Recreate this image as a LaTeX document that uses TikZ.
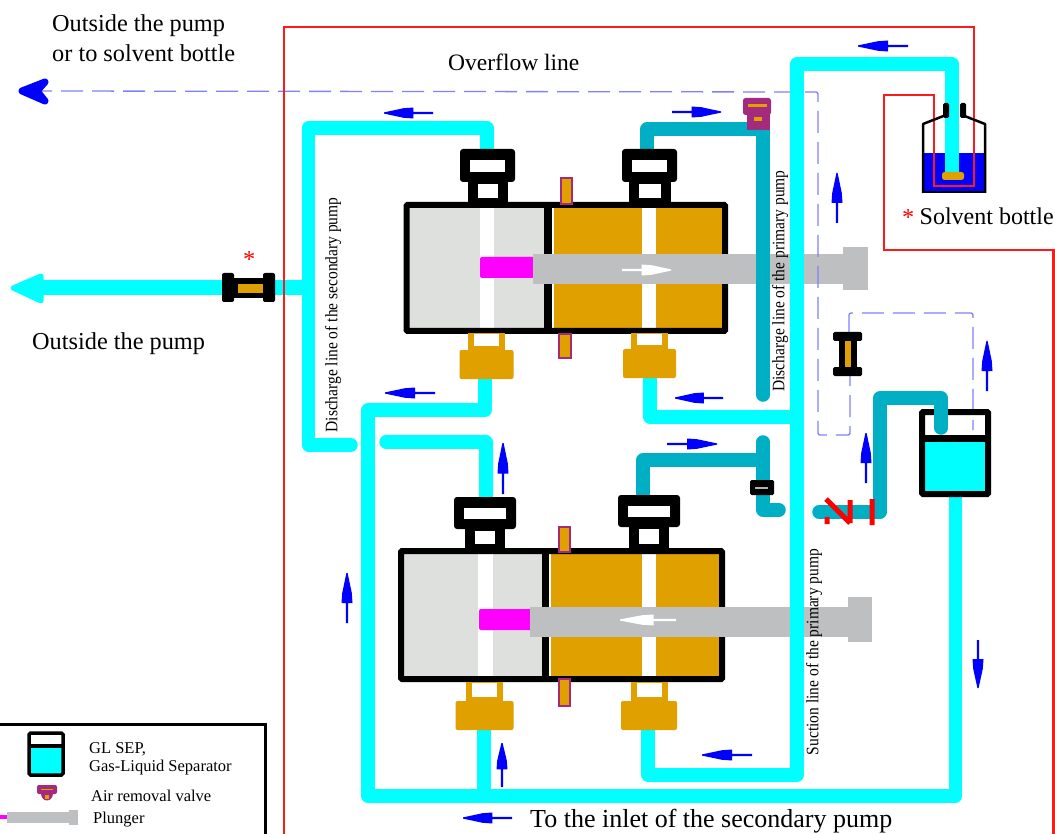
\documentclass[tikz,border=0pt]{standalone}
\usepackage{fontspec}
\setmainfont{Liberation Serif}
\definecolor{pipec}{HTML}{00FFFF}
\definecolor{pipet}{HTML}{00AFC3}
\definecolor{orng}{HTML}{DFA000}
\definecolor{lgrey}{HTML}{DDE0DD}
\definecolor{rod}{HTML}{BDBFC1}
\definecolor{purp}{HTML}{A32A7C}
\definecolor{dashb}{HTML}{8080FF}
\definecolor{redl}{HTML}{FF1A1A}
\definecolor{magn}{HTML}{FF00FF}
\definecolor{bluef}{HTML}{0000FF}
\tikzset{
 pipe/.style={line width=13.5pt,color=pipec,line join=round},
 tpipe/.style={line width=13.5pt,color=pipet,line join=round,line cap=round},
 redline/.style={line width=2.8pt,color=redl},
 dashline/.style={line width=1.3pt,color=dashb,dash pattern=on 22pt off 9pt,rounded corners=2pt},
 lbl/.style={inner sep=0pt,anchor=base west,font=\fontsize{24.3}{24}\selectfont},
 vlbl/.style={inner sep=0pt,rotate=90,font=\fontsize{17.5}{17}\selectfont,xscale=.885,transform shape},
 leg/.style={inner sep=0pt,anchor=base west,font=\fontsize{16.5}{16}\selectfont},
}
% flow arrow: tail x,y ; tip x,y ; colour
\newcommand{\flowarrow}[5]{%
 \begin{scope}[shift={(#1,#2)},rotate={atan2(-(#4-(#2)),#3-(#1))}]
  \pgfmathsetmacro{\len}{veclen(#3-(#1),#4-(#2))}
  \fill[#5] (0,-1.2)--(\len*.4,-1.2)--(\len*.4,-5.5)--(\len*.6,-4.8)--(\len,-.6)--(\len,.6)--(\len*.6,4.8)--(\len*.4,5.5)--(\len*.4,1.2)--(0,1.2)--cycle;
 \end{scope}}
\newcommand{\blackvalve}[6]{%
 \fill[black,rounded corners=3pt] (#1-#3,#2) rectangle (#1+#3,#2+#4);
 \fill[black] (#1-#5,#2+#4-2) rectangle (#1+#5,#6);
 \fill[white] (#1-#3+10,#2+11) rectangle (#1+#3-10,#2+#4-10);
 \fill[white] (#1-#5+10,#2+#4+2) rectangle (#1+#5-10,#6-8);}
\newcommand{\orangevalve}[6]{%
 \fill[orng] (#1-#3,#2) rectangle (#1+#3,#4+1);
 \fill[white] (#1-#3+6,#2+1) rectangle (#1+#3-6,#4-4);
 \fill[orng,rounded corners=2pt] (#1-#5,#4) rectangle (#1+#5,#6);}
\newcommand{\airvalve}[2]{%
 \fill[purp,rounded corners=2.5pt] (#1-15,#2) rectangle (#1+13,#2+17);
 \fill[purp] (#1-11,#2+14) rectangle (#1+12,#2+32);
 \fill[orng] (#1-10,#2+6) rectangle (#1+9,#2+9.5);
 \fill[orng] (#1-4,#2+19) rectangle (#1+4,#2+23);}
\newcommand{\sealbar}[4]{%
 \fill[orng,draw=purp,line width=2pt] (#1,#2) rectangle (#3,#4);}
\begin{document}
\begin{tikzpicture}[x=1pt,y=-1pt]
\useasboundingbox (0,0) rectangle (1055,834);
\fill[white] (0,0) rectangle (1055,834);
% bottle contents
\fill[bluef] (924,153) rectangle (985,192);
% pump 1
\fill[lgrey] (404,202) rectangle (546,333);
\fill[orng] (550,202) rectangle (726,333);
\fill[white] (480,205) rectangle (494,330);
\fill[white] (642,205) rectangle (656,330);
\fill[white] (551,205) rectangle (554,330);
\draw[line width=6pt,rounded corners=1pt] (406.5,205) rectangle (725,331);
\draw[line width=8pt] (547.5,205) -- (547.5,331);
% pump 2
\fill[lgrey] (400,550) rectangle (544,680);
\fill[orng] (548,550) rectangle (722,680);
\fill[white] (478,553) rectangle (493,678);
\fill[white] (642,553) rectangle (656,678);
\fill[white] (548,553) rectangle (551,678);
\draw[line width=6pt,rounded corners=1pt] (401,551) rectangle (722,679);
\draw[line width=7pt] (545,551) -- (545,679);
% plungers
\fill[rod] (533,254) rectangle (845,284);
\fill[rod] (843,247) rectangle (868,290);
\fill[magn,rounded corners=2pt] (480,257) rectangle (536,278);
\fill[rod] (533,254) rectangle (560,284);
\fill[rod] (530,607) rectangle (850,637);
\fill[rod] (848,597) rectangle (872,642);
\fill[magn,rounded corners=2pt] (479,609) rectangle (532,630);
\fill[rod] (530,607) rectangle (560,637);
\flowarrow{622}{270}{671}{270}{white}
\flowarrow{676}{620}{620}{620}{white}
% dashed lines
\draw[dashline] (30,91) -- (818,92) -- (818,435) -- (850,435) -- (850,376);
\draw[dashline] (849,332) -- (849,313) -- (973,313) -- (973,430);
\draw[bluef,line width=7pt,line cap=round,line join=round,fill=bluef] (45,82) -- (22,91) -- (45,101) -- (37,91) -- cycle;
% pipes
\draw[pipe,line cap=round] (351,445) -- (308.5,445) -- (308.5,128) -- (487,128) -- (487,150);
\draw[pipe] (952,172) -- (952,64) -- (797,64) -- (797,775) -- (648,775) -- (648,730);
\draw[pipe] (650,378) -- (650,417) -- (797,417);
\draw[pipe] (485,378) -- (485,410) -- (368,410) -- (368,796) -- (955.5,796) -- (955.5,495);
\draw[pipe] (484,730) -- (484,796);
\draw[pipe,line cap=round] (386,442) -- (486,442) -- (486,500);
\draw[pipec,line width=15pt] (306,288) -- (35,288);
\fill[pipec,draw=pipec,line width=5pt,line join=round] (13,288) -- (41,276) -- (41,301) -- cycle;
% teal pipes
\draw[tpipe] (647,150) -- (647,129) -- (763,129) -- (763,395);
\draw[tpipe] (643,497) -- (643,460) -- (763,460);
\draw[tpipe] (763,442) -- (763,510) -- (779,510);
\draw[tpipe] (819,512) -- (880,512) -- (880,398) -- (941,398) -- (941,420);
% valves
\blackvalve{487.5}{149}{27.5}{33}{20}{206}
\blackvalve{649.5}{149}{27.5}{33}{21}{206}
\blackvalve{485}{497}{31}{32}{20}{552}
\blackvalve{649}{495}{31}{32}{20}{552}
\orangevalve{486.5}{333}{18.5}{350}{27}{379}
\orangevalve{649.5}{333}{18.5}{349}{26.5}{378}
\orangevalve{484.5}{682}{18.5}{701}{29}{730}
\orangevalve{649}{682}{18.5}{701}{28}{730}
\sealbar{561}{178}{572}{204}
\sealbar{559}{334}{571}{358}
\sealbar{559}{527}{570}{552}
\sealbar{559}{679}{570}{706}
\airvalve{758}{98}
% small black valve on teal
\fill[black,rounded corners=1.5pt] (750,480) rectangle (774,495);
\fill[gray!60] (755,486.5) rectangle (768,489);
% filter between dashes
\fill[black,rounded corners=1.5pt] (833,332) rectangle (862,341);
\fill[black,rounded corners=1.5pt] (833,367) rectangle (862,376);
\fill[black] (839,340) rectangle (857,368);
\fill[orng] (845,341) rectangle (851,367);
% left filter
\fill[black,rounded corners=2pt] (222,273) rectangle (234,302);
\fill[black,rounded corners=2pt] (263,273) rectangle (275,302);
\fill[black] (232,278) rectangle (265,298);
\fill[orng] (238,284) rectangle (263,293);
% red lines
\draw[redline] (284,834) -- (284,27) -- (974,27) -- (974,186) -- (934,186) -- (934,95) -- (884,95) -- (884,250) -- (1053.5,250) -- (1053.5,834);
% red marks
\draw[line width=5pt,color=red] (826,499) -- (850,523) (850,500) -- (850,523) (872,499) -- (872,525) (827,517) -- (827,524);
% bottle outline
\draw[line width=2.5pt,line join=round] (923,193) -- (923,124) -- (946,115) (985,193) -- (985,124) -- (962,115);
\draw[line width=2.5pt] (922,192) -- (986,192);
\fill[black,rounded corners=1.5pt] (943,103) rectangle (949,118);
\fill[black,rounded corners=1.5pt] (960,103) rectangle (966,118);
\fill[orng,rounded corners=2.5pt] (942,172) rectangle (964,180);
% separator
\fill[pipec] (925,442) rectangle (985,491);
\draw[line width=6pt,rounded corners=1pt] (922,412) rectangle (988,494);
\draw[line width=7pt] (922,438.5) -- (988,438.5);
\draw[tpipe] (941,400) -- (941,428);
% flow arrows
\flowarrow{908}{46}{858}{46}{bluef}
\flowarrow{433}{113}{384}{113}{bluef}
\flowarrow{672}{112}{721}{112}{bluef}
\flowarrow{837}{223}{837}{173}{bluef}
\flowarrow{723}{398}{675}{398}{bluef}
\flowarrow{435}{393}{385}{393}{bluef}
\flowarrow{667}{444}{717}{444}{bluef}
\flowarrow{503}{494}{503}{443}{bluef}
\flowarrow{347}{623}{347}{573}{bluef}
\flowarrow{502}{787}{502}{743}{bluef}
\flowarrow{512}{818}{463}{818}{bluef}
\flowarrow{752}{755}{702}{755}{bluef}
\flowarrow{978}{640}{978}{688}{bluef}
\flowarrow{866}{483}{866}{433}{bluef}
\flowarrow{987}{391}{987}{341}{bluef}
% labels
\node[lbl] (t1) at (52,32) {Outside the pump};
\node[lbl] (t2) at (52,62) {or to solvent bottle};
\node[lbl,font=\fontsize{23.5}{24}\selectfont] (t3) at (448,71) {Overflow line};
\node[lbl] (t4) at (32,349) {Outside the pump};
\node[lbl,font=\fontsize{26}{26}\selectfont] (t5) at (530,827) {To the inlet of the secondary pump};
\node[lbl,font=\fontsize{24}{24}\selectfont] (t6) at (919.5,225) {Solvent bottle};
\node[lbl,text=red] (s1) at (902,226) {*};
\node[lbl,text=red] (s2) at (243,268) {*};
\node[vlbl] (v1) at (333,315) {Discharge line of the secondary pump};
\node[vlbl] (v2) at (780,281) {Discharge line of the primary pump};
\node[vlbl] (v3) at (814,652) {Suction line of the primary pump};
% legend
\draw[line width=3pt,fill=white] (-3,724.5) -- (265,724.5) -- (265,837);
\fill[pipec] (30,748) rectangle (63,774);
\draw[line width=3.5pt,rounded corners=1.5pt] (29,733) rectangle (63,775);
\draw[line width=3.5pt] (29,746) -- (63,746);
\fill[purp,rounded corners=2pt] (37,785) rectangle (57,794);
\fill[purp] (41,793) .. controls (41,803) and (53,803) .. (53,793) -- cycle;
\fill[orng] (41,788.5) rectangle (53,790);
\fill[orng] (45,795) rectangle (49,798.5);
\fill[magn] (0,815) rectangle (7,819);
\fill[rod] (7,812) rectangle (70,823);
\fill[rod] (69,810) rectangle (78,825);
\node[leg] (l1) at (89,753) {GL SEP,};
\node[leg] (l2) at (89,771) {Gas-Liquid Separator};
\node[leg] (l3) at (91,801) {Air removal valve};
\node[leg] (l4) at (93,823) {Plunger};
\end{tikzpicture}
\end{document}
